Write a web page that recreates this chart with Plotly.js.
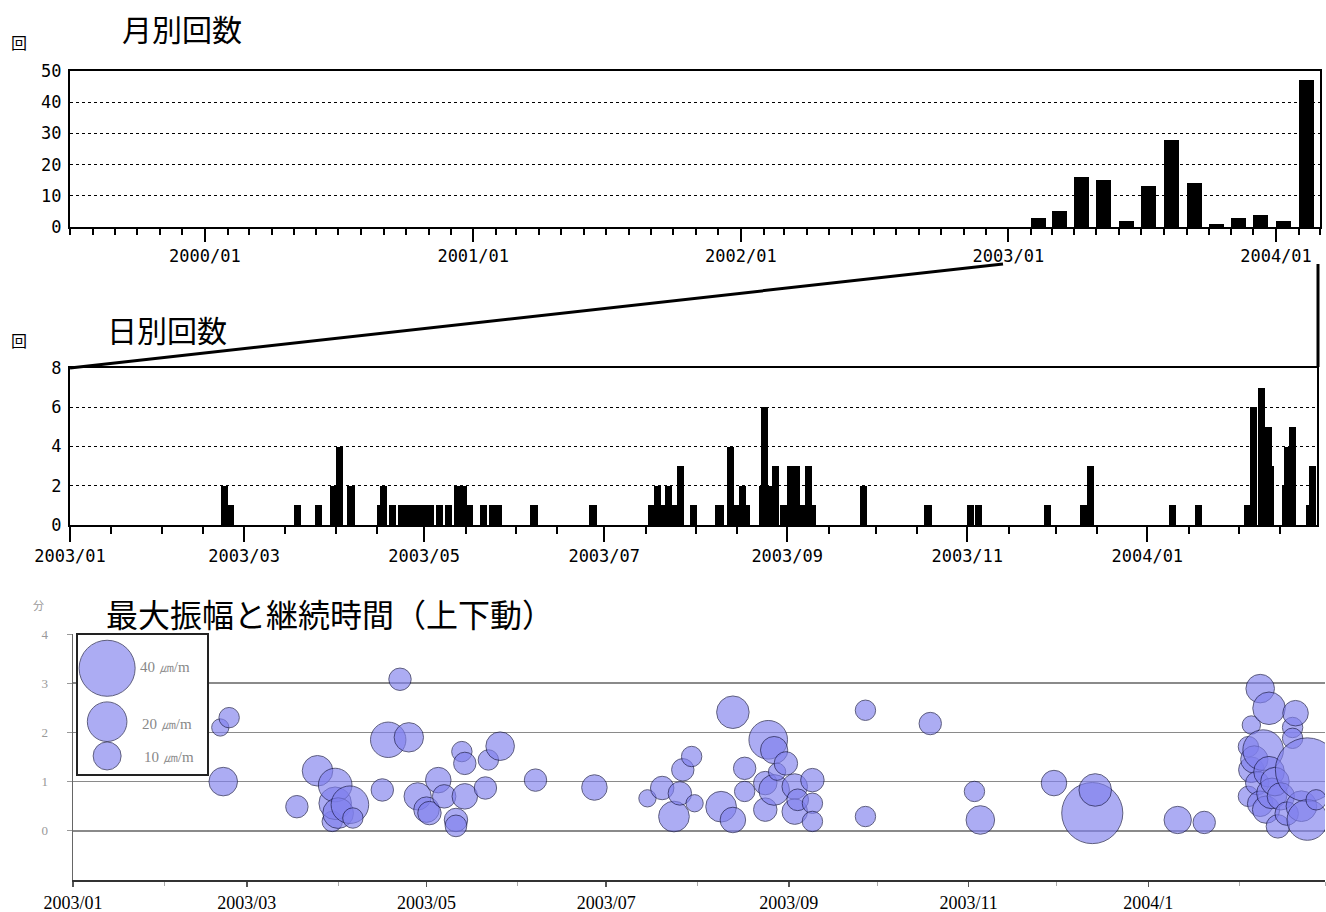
<!DOCTYPE html>
<html><head><meta charset="utf-8">
<script src="https://cdn.plot.ly/plotly-3.0.1.min.js"></script>
<style>html,body{margin:0;padding:0;background:#fff}#chart{width:1326px;height:912px}</style>
</head><body><div id="chart"></div>
<script>
// ---- monthly counts (月別回数) ----
const monthDates = ['2003-02-01','2003-03-01','2003-04-01','2003-05-01','2003-06-01','2003-07-01','2003-08-01','2003-09-01','2003-10-01','2003-11-01','2003-12-01','2004-01-01','2004-02-01'];
const monthCounts = [3,5,16,15,2,13,28,14,1,3,4,2,47];

// ---- daily counts (日別回数) ----
const dayDates = ['2003-02-21','2003-02-23','2003-03-18','2003-03-25','2003-03-30','2003-04-01','2003-04-05','2003-04-15','2003-04-16','2003-04-19',
 '2003-04-22','2003-04-24','2003-04-26','2003-04-28','2003-04-30','2003-05-02','2003-05-05','2003-05-08','2003-05-11','2003-05-13',
 '2003-05-15','2003-05-20','2003-05-23','2003-05-25','2003-06-06','2003-06-26','2003-07-16','2003-07-18','2003-07-20','2003-07-21 12:00',
 '2003-07-24','2003-07-25 12:00','2003-07-30','2003-08-07 12:00','2003-08-08 06:00','2003-08-11 12:00','2003-08-14','2003-08-15 12:00','2003-08-17','2003-08-22 08:00',
 '2003-08-23 05:00','2003-08-25','2003-08-26 19:00','2003-08-29 12:00','2003-09-01','2003-09-03','2003-09-05 12:00','2003-09-07','2003-09-08 12:00','2003-09-25 12:00',
 '2003-10-17 12:00','2003-11-01','2003-11-03 12:00','2003-11-27','2003-12-09 08:00','2003-12-11 14:00','2004-01-08 08:00','2004-01-17','2004-02-02 17:00','2004-02-04 19:00',
 '2004-02-07 10:00','2004-02-09 20:00','2004-02-10 12:00','2004-02-15 14:00','2004-02-16 10:00','2004-02-17 22:00','2004-02-23 19:00','2004-02-24 22:00'];
const dayCounts = [2,1,1,1,2,4,2,1,2,1,
 1,1,1,1,1,1,1,1,2,2,
 1,1,1,1,1,1,1,2,1,2,
 1,3,1,1,1,4,1,2,1,2,
 6,2,3,1,3,3,1,3,1,2,
 1,1,1,1,1,3,1,1,1,6,
 7,5,3,2,4,5,1,3];

// ---- amplitude & duration (最大振幅と継続時間) ----
const quakeDates = ['2003-02-20','2003-02-21','2003-02-23','2003-03-18','2003-03-25','2003-03-30','2003-03-31','2003-03-31','2003-04-01','2003-04-05',
 '2003-04-06','2003-04-16','2003-04-18','2003-04-22','2003-04-25','2003-04-28','2003-05-01','2003-05-02','2003-05-05','2003-05-07',
 '2003-05-11','2003-05-11','2003-05-13','2003-05-14','2003-05-14','2003-05-21','2003-05-22','2003-05-26','2003-06-07','2003-06-27',
 '2003-07-15','2003-07-20','2003-07-24','2003-07-26','2003-07-27','2003-07-30','2003-07-31','2003-08-09','2003-08-13','2003-08-13',
 '2003-08-17','2003-08-17','2003-08-24','2003-08-24','2003-08-25','2003-08-27','2003-08-27','2003-08-28','2003-08-31','2003-09-03',
 '2003-09-03','2003-09-04','2003-09-09','2003-09-09','2003-09-09','2003-09-27','2003-09-27','2003-10-19','2003-11-03','2003-11-05',
 '2003-11-30','2003-12-13','2003-12-14','2004-01-11','2004-01-20','2004-02-04','2004-02-05','2004-02-05','2004-02-04','2004-02-06',
 '2004-02-07','2004-02-08','2004-02-08','2004-02-09','2004-02-10','2004-02-11','2004-02-11','2004-02-12','2004-02-13','2004-02-14',
 '2004-02-15','2004-02-17','2004-02-19','2004-02-19','2004-02-20','2004-02-22','2004-02-24','2004-02-24','2004-02-27'];
const quakeDuration = [2.1,1.0,2.3,0.49,1.22,0.19,0.56,0.93,0.36,0.53,
 0.26,0.83,1.85,3.08,1.9,0.7,0.43,0.36,1.03,0.7,
 0.22,0.1,1.61,1.37,0.7,0.87,1.44,1.72,1.03,0.88,
 0.66,0.87,0.29,0.76,1.24,1.51,0.56,0.49,0.22,2.41,
 1.27,0.8,0.97,0.43,1.85,1.64,0.83,1.2,1.37,0.9,
 0.39,0.63,1.03,0.56,0.19,2.45,0.29,2.18,0.8,0.22,
 0.97,0.36,0.83,0.22,0.17,0.7,2.15,1.24,1.71,1.45,
 0.97,2.89,0.55,1.64,0.43,2.49,1.2,0.76,1.0,0.09,
 0.7,0.35,2.1,1.88,2.39,0.5,1.24,0.22,0.63];
const quakeAmplitude = [3.8,10.4,5.3,6.4,11.9,5.3,13.5,14.4,12,18,
 5.3,6.4,16,6.4,11,9.5,8.3,7,8.3,7,
 7,6,5.3,6.4,8.3,6.4,5.3,10.4,6.4,8.3,
 3.8,7,12,7,6.4,5.3,3.8,12,8.3,13.5,
 6.4,5.3,7,7,19,9.5,12,3.8,7,8.3,
 8.3,6,7,5.3,5.3,5.3,5.3,6.4,5.3,10.4,
 8.3,47.6,13.5,9.5,6.4,5.3,4.3,8.3,5.3,9.5,
 7,10.4,8.3,21,9.5,13.5,12,12,10.4,7,
 9.5,7,5.3,5.3,8.3,12,52,21,5.3];

const legendAmplitudes = [40,20,10];
const legendLabels = ['40 ㎛/m','20 ㎛/m','10 ㎛/m'];

// ---- geometry helpers (pixel -> paper) ----
const W = 1326, H = 912;
const px = x => x / W;
const py = y => 1 - y / H;
const DAY = 86400000;
const SIZEREF = 3.86 / 151.4;
const bubbleFill = 'rgba(128,128,238,0.92)';
const bubbleLine = '#1c1c4a';
const monoFont = {family: 'DejaVu Sans Mono', size: 17, color: '#000'};

// minor ticks on the 1st and 15th of each month for the daily chart
const dailyMinor = [];
for (let m = 0; m < 15; m++) {
  const y = 2003 + Math.floor(m / 12), mo = (m % 12) + 1;
  const mm = String(mo).padStart(2, '0');
  dailyMinor.push(`${y}-${mm}-01`, `${y}-${mm}-15`);
}

const traces = [
  {type: 'bar', x: monthDates, y: monthCounts, xaxis: 'x', yaxis: 'y',
   width: 20.5 * DAY, offset: 0, marker: {color: '#000', line: {width: 0}}, hoverinfo: 'x+y'},
  {type: 'bar', x: dayDates, y: dayCounts, xaxis: 'x2', yaxis: 'y2',
   width: 2.4 * DAY, offset: 0, marker: {color: '#000', line: {width: 0}}, hoverinfo: 'x+y'},
  {type: 'scatter', mode: 'markers', x: quakeDates, y: quakeDuration, xaxis: 'x3', yaxis: 'y3',
   marker: {size: quakeAmplitude, sizemode: 'area', sizeref: SIZEREF, color: bubbleFill,
            line: {color: bubbleLine, width: 1}}, cliponaxis: true},
  // white background of the size-legend box
  {type: 'scatter', mode: 'lines', x: [0, 1, 1, 0, 0], y: [0, 0, 1, 1, 0], xaxis: 'x4', yaxis: 'y4',
   fill: 'toself', fillcolor: '#fff', line: {width: 0, color: '#fff'}, hoverinfo: 'skip'},
  {type: 'scatter', mode: 'markers', x: [0.23, 0.23, 0.23], y: [0.757, 0.378, 0.135], xaxis: 'x4', yaxis: 'y4',
   marker: {size: legendAmplitudes, sizemode: 'area', sizeref: SIZEREF, color: bubbleFill,
            line: {color: bubbleLine, width: 1}}, hoverinfo: 'skip', cliponaxis: false}
];

const layout = {
  width: W, height: H, margin: {l: 0, r: 0, t: 0, b: 0},
  paper_bgcolor: '#fff', plot_bgcolor: 'rgba(0,0,0,0)', showlegend: false,
  bargap: 0,
  xaxis: {domain: [px(70), px(1320)], anchor: 'y', type: 'date',
    range: ['1999-07-01', '2004-03-01'], showline: true, linecolor: '#000', linewidth: 2, mirror: true,
    ticks: 'outside', ticklen: 13, tickwidth: 2, tickcolor: '#000',
    tick0: '2000-01-01', dtick: 'M12', tickformat: '%Y/%m', tickfont: monoFont,
    minor: {dtick: 'M1', tick0: '1999-07-01', ticks: 'outside', ticklen: 6, tickwidth: 2, tickcolor: '#000', showgrid: false},
    showgrid: false, zeroline: false, fixedrange: true},
  yaxis: {domain: [py(227), py(71)], anchor: 'x', range: [0, 50], dtick: 10,
    showline: true, linecolor: '#000', linewidth: 2, mirror: true, ticks: '',
    showgrid: true, gridcolor: '#000', gridwidth: 1, griddash: 'dot',
    tickfont: monoFont, ticklabelstandoff: 3, zeroline: false, fixedrange: true},
  xaxis2: {domain: [px(70), px(1317)], anchor: 'y2', type: 'date',
    range: ['2003-01-01', '2004-02-27 12:00'], showline: true, linecolor: '#000', linewidth: 2, mirror: true,
    ticks: 'outside', ticklen: 15, tickwidth: 2, tickcolor: '#000',
    tick0: '2003-01-01', dtick: 'M2', tickformat: '%Y/%m', tickfont: monoFont,
    minor: {tickmode: 'array', tickvals: dailyMinor, ticks: 'outside', ticklen: 7, tickwidth: 2, tickcolor: '#000', showgrid: false},
    showgrid: false, zeroline: false, fixedrange: true},
  yaxis2: {domain: [py(525), py(368)], anchor: 'x2', range: [0, 8], dtick: 2,
    showline: true, linecolor: '#000', linewidth: 2, mirror: true, ticks: '',
    showgrid: true, gridcolor: '#000', gridwidth: 1, griddash: 'dot',
    tickfont: monoFont, ticklabelstandoff: 3, zeroline: false, fixedrange: true},
  xaxis3: {domain: [px(73), px(1325)], anchor: 'y3', type: 'date',
    range: ['2003-01-01', '2004-03-01'], showline: true, linecolor: '#333', linewidth: 2,
    tickmode: 'array',
    tickvals: ['2003-01-01','2003-03-01','2003-05-01','2003-07-01','2003-09-01','2003-11-01','2004-01-01'],
    ticktext: ['2003/01','2003/03','2003/05','2003/07','2003/09','2003/11','2004/1'],
    ticks: 'outside', ticklen: 5, tickwidth: 1.5, tickcolor: '#555',
    tickfont: {family: 'Liberation Serif', size: 18, color: '#000'},
    minor: {dtick: 'M1', tick0: '2003-01-01', ticks: 'outside', ticklen: 4, tickwidth: 1, tickcolor: '#aaa', showgrid: false},
    showgrid: false, zeroline: false, fixedrange: true},
  yaxis3: {domain: [py(880), py(634)], anchor: 'x3', range: [-1, 4], tickvals: [0, 1, 2, 3, 4],
    showline: true, linecolor: '#666', linewidth: 1.5, ticks: 'outside', ticklen: 5, tickcolor: '#999',
    showgrid: true, gridcolor: '#8a8a8a', gridwidth: 1.5,
    tickfont: {family: 'Liberation Serif', size: 13, color: '#999'}, ticklabelstandoff: 16,
    zeroline: false, fixedrange: true},
  xaxis4: {domain: [px(77), px(208)], anchor: 'y4', range: [0, 1], visible: false, fixedrange: true},
  yaxis4: {domain: [py(775), py(634)], anchor: 'x4', range: [0, 1], visible: false, fixedrange: true},
  shapes: [
    {type: 'rect', xref: 'paper', yref: 'paper', x0: px(77), x1: px(208), y0: py(775), y1: py(634),
     layer: 'above', line: {color: '#222', width: 2}},
    {type: 'line', xref: 'paper', yref: 'paper', x0: px(1003), y0: py(264), x1: px(70), y1: py(368),
     line: {color: '#000', width: 3}},
    {type: 'line', xref: 'paper', yref: 'paper', x0: px(1318), y0: py(264), x1: px(1318), y1: py(367),
     line: {color: '#000', width: 3}}
  ],
  annotations: [
    {text: '月別回数', xref: 'paper', yref: 'paper', x: px(120), y: py(28), xanchor: 'left', yanchor: 'middle',
     showarrow: false, font: {family: 'Noto Sans CJK JP', size: 30, color: '#000'}},
    {text: '回', xref: 'paper', yref: 'paper', x: px(19), y: py(42), xanchor: 'center', yanchor: 'middle',
     showarrow: false, font: {family: 'Noto Sans CJK JP', size: 16, color: '#000'}},
    {text: '日別回数', xref: 'paper', yref: 'paper', x: px(105), y: py(329), xanchor: 'left', yanchor: 'middle',
     showarrow: false, font: {family: 'Noto Sans CJK JP', size: 30, color: '#000'}},
    {text: '回', xref: 'paper', yref: 'paper', x: px(19), y: py(340), xanchor: 'center', yanchor: 'middle',
     showarrow: false, font: {family: 'Noto Sans CJK JP', size: 16, color: '#000'}},
    {text: '最大振幅と継続時間（上下動）', xref: 'paper', yref: 'paper', x: px(104), y: py(613), xanchor: 'left', yanchor: 'middle',
     showarrow: false, font: {family: 'Noto Sans CJK JP', size: 32, color: '#000'}},
    {text: '分', xref: 'paper', yref: 'paper', x: px(38), y: py(605), xanchor: 'center', yanchor: 'middle',
     showarrow: false, font: {family: 'Noto Sans CJK JP', size: 11, color: '#999'}},
    ...legendLabels.map((t, i) => ({text: t, xref: 'paper', yref: 'paper', x: px(138 + i * 2), y: py([667, 724, 757][i]),
     xanchor: 'left', yanchor: 'middle', showarrow: false, font: {family: 'Liberation Serif', size: 15, color: '#888'}}))
  ]
};

Plotly.newPlot('chart', traces, layout, {staticPlot: true, displayModeBar: false});
</script></body></html>
